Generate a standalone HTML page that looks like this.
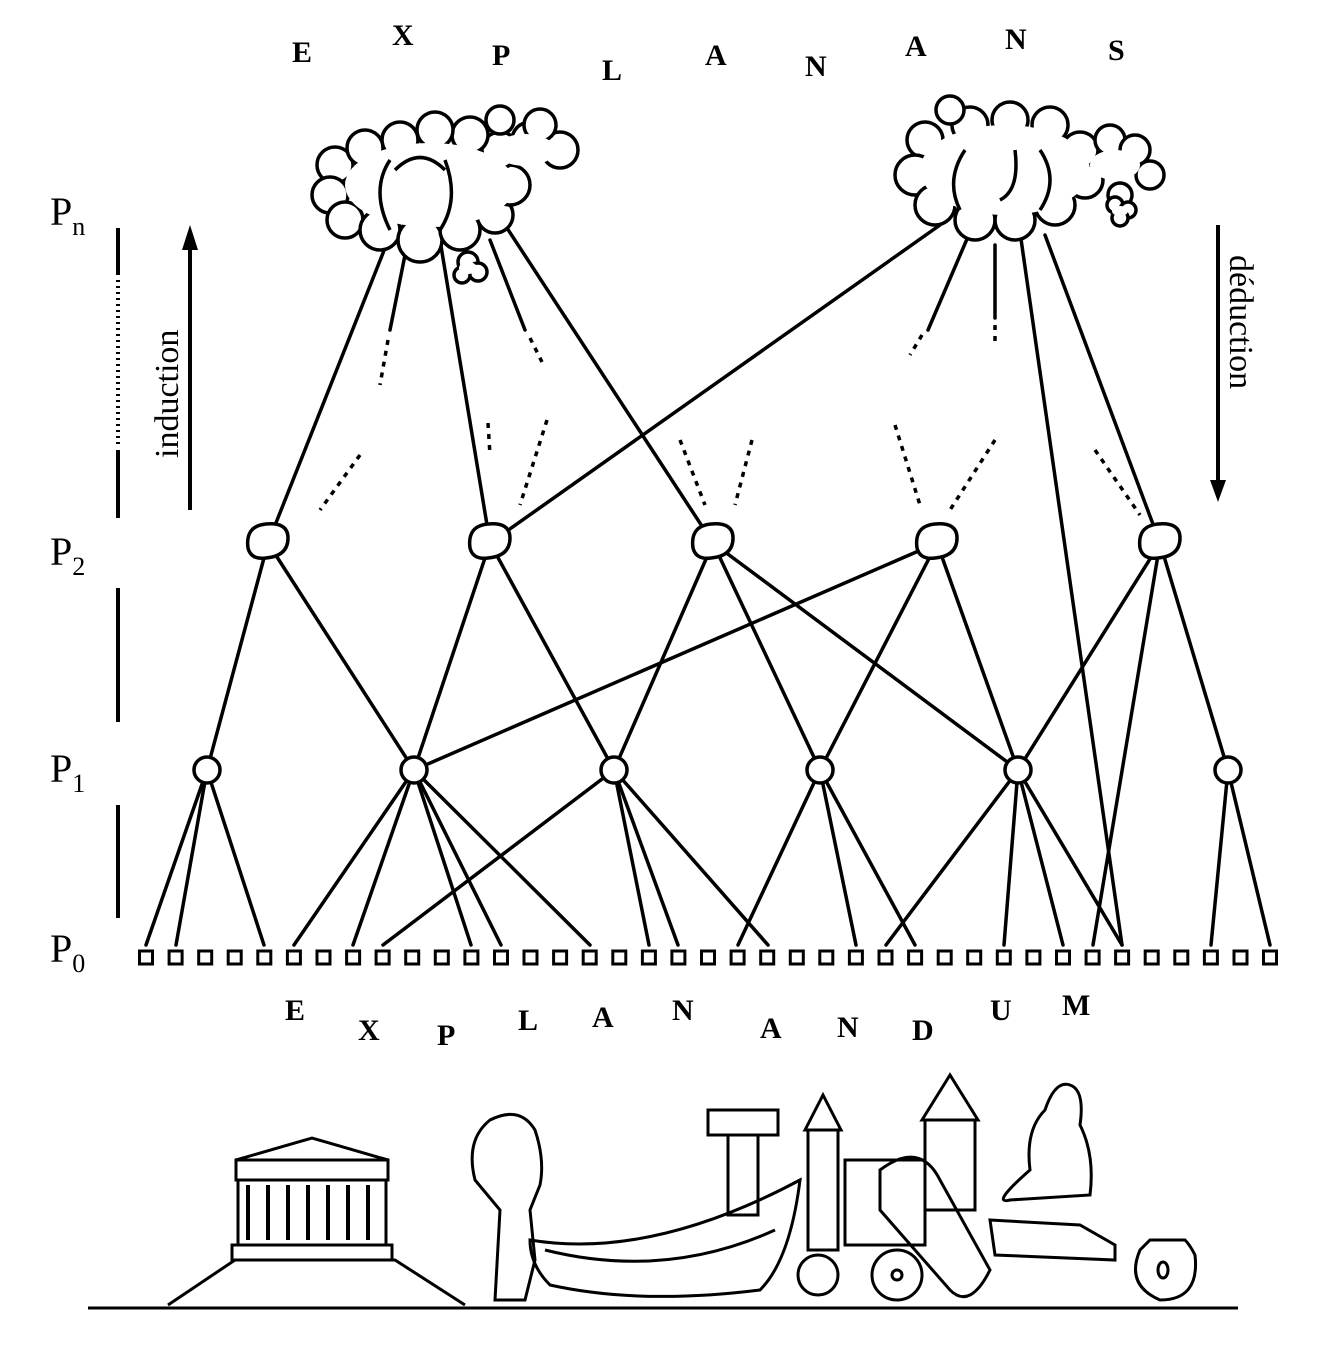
<!DOCTYPE html>
<html><head><meta charset="utf-8"><style>
html,body{margin:0;padding:0;background:#fff;}
svg{display:block;}
text{font-family:"Liberation Serif",serif;fill:#000;}
</style></head><body>
<svg width="1325" height="1350" viewBox="0 0 1325 1350" xmlns="http://www.w3.org/2000/svg">
<g font-size="30" font-weight="bold">
<text x="292" y="62">E</text><text x="392" y="45">X</text><text x="492" y="65">P</text>
<text x="602" y="80">L</text><text x="705" y="65">A</text><text x="805" y="76">N</text>
<text x="905" y="56">A</text><text x="1005" y="49">N</text><text x="1108" y="60">S</text>
</g>
<g font-size="30" font-weight="bold">
<text x="285" y="1020">E</text><text x="358" y="1040">X</text><text x="437" y="1045">P</text>
<text x="518" y="1030">L</text><text x="592" y="1027">A</text><text x="672" y="1020">N</text>
<text x="760" y="1038">A</text><text x="837" y="1037">N</text><text x="912" y="1040">D</text>
<text x="990" y="1020">U</text><text x="1062" y="1015">M</text>
</g>
<g font-size="40">
<text x="50" y="225">P<tspan font-size="26" dy="10">n</tspan></text>
<text x="50" y="565">P<tspan font-size="26" dy="10">2</tspan></text>
<text x="50" y="782">P<tspan font-size="26" dy="10">1</tspan></text>
<text x="50" y="962">P<tspan font-size="26" dy="10">0</tspan></text>
</g>
<g stroke="#000" stroke-width="4">
<line x1="118" y1="228" x2="118" y2="275"/>
<line x1="118" y1="280" x2="118" y2="445" stroke-dasharray="2 4"/>
<line x1="118" y1="450" x2="118" y2="518"/>
<line x1="118" y1="588" x2="118" y2="722"/>
<line x1="118" y1="805" x2="118" y2="918"/>
<line x1="190" y1="510" x2="190" y2="245"/>
<line x1="1218" y1="225" x2="1218" y2="485"/>
</g>
<polygon points="190,225 182,250 198,250" fill="#000"/>
<polygon points="1218,502 1210,480 1226,480" fill="#000"/>
<text font-size="34" transform="translate(178,458) rotate(-90)">induction</text>
<text font-size="34" transform="translate(1230,255) rotate(90)">déduction</text>

<g stroke="#000" stroke-width="3.5" fill="none" stroke-linecap="round">
<!-- P1 to P0 -->
<line x1="207" y1="770" x2="146" y2="945"/><line x1="207" y1="770" x2="176" y2="945"/><line x1="207" y1="770" x2="264" y2="945"/>
<line x1="414" y1="770" x2="294" y2="945"/><line x1="414" y1="770" x2="353" y2="945"/><line x1="414" y1="770" x2="471" y2="945"/><line x1="414" y1="770" x2="501" y2="945"/><line x1="414" y1="770" x2="590" y2="945"/>
<line x1="614" y1="770" x2="383" y2="945"/><line x1="614" y1="770" x2="649" y2="945"/><line x1="614" y1="770" x2="678" y2="945"/><line x1="614" y1="770" x2="768" y2="945"/>
<line x1="820" y1="770" x2="738" y2="945"/><line x1="820" y1="770" x2="856" y2="945"/><line x1="820" y1="770" x2="915" y2="945"/>
<line x1="1018" y1="770" x2="886" y2="945"/><line x1="1018" y1="770" x2="1004" y2="945"/><line x1="1018" y1="770" x2="1063" y2="945"/><line x1="1018" y1="770" x2="1122" y2="945"/>
<line x1="1228" y1="770" x2="1211" y2="945"/><line x1="1228" y1="770" x2="1270" y2="945"/>
<!-- P2 to P1 -->
<line x1="268" y1="543" x2="207" y2="770"/><line x1="268" y1="543" x2="414" y2="770"/>
<line x1="490" y1="543" x2="414" y2="770"/><line x1="490" y1="543" x2="614" y2="770"/>
<line x1="713" y1="543" x2="614" y2="770"/><line x1="713" y1="543" x2="820" y2="770"/><line x1="713" y1="543" x2="1018" y2="770"/>
<line x1="937" y1="543" x2="414" y2="770"/><line x1="937" y1="543" x2="820" y2="770"/><line x1="937" y1="543" x2="1018" y2="770"/>
<line x1="1160" y1="543" x2="1018" y2="770"/><line x1="1160" y1="543" x2="1228" y2="770"/><line x1="1160" y1="543" x2="1093" y2="945"/>
<!-- clouds to P2 -->
<line x1="385" y1="248" x2="268" y2="543"/><line x1="440" y1="240" x2="490" y2="543"/><line x1="505" y1="225" x2="713" y2="543"/>
<line x1="940" y1="225" x2="490" y2="543"/><line x1="1020" y1="232" x2="1122" y2="945"/><line x1="1045" y1="235" x2="1160" y2="543"/>
<line x1="405" y1="255" x2="390" y2="330"/><line x1="490" y1="240" x2="525" y2="330"/><line x1="970" y1="232" x2="928" y2="330"/><line x1="995" y1="245" x2="995" y2="318"/>
</g>
<g stroke="#000" stroke-width="3.5" fill="none" stroke-dasharray="5 6">
<line x1="388" y1="340" x2="380" y2="385"/><line x1="530" y1="338" x2="542" y2="362"/><line x1="922" y1="335" x2="910" y2="355"/><line x1="995" y1="325" x2="995" y2="345"/>
<line x1="360" y1="455" x2="320" y2="510"/><line x1="488" y1="423" x2="490" y2="455"/><line x1="547" y1="420" x2="520" y2="505"/><line x1="680" y1="440" x2="705" y2="505"/><line x1="752" y1="440" x2="735" y2="505"/><line x1="895" y1="425" x2="920" y2="505"/><line x1="995" y1="440" x2="950" y2="510"/><line x1="1095" y1="450" x2="1140" y2="515"/>
</g>
<!-- nodes -->
<g stroke="#000" stroke-width="3.5" fill="#fff">
<circle cx="207" cy="770" r="13"/><circle cx="414" cy="770" r="13"/><circle cx="614" cy="770" r="13"/><circle cx="820" cy="770" r="13"/><circle cx="1018" cy="770" r="13"/><circle cx="1228" cy="770" r="13"/>
<path d="M248,548 q-3,-22 18,-24 q22,-2 22,14 q0,18 -22,20 q-15,2 -18,-10z"/>
<path d="M470,548 q-3,-22 18,-24 q22,-2 22,14 q0,18 -22,20 q-15,2 -18,-10z"/>
<path d="M693,548 q-3,-22 18,-24 q22,-2 22,14 q0,18 -22,20 q-15,2 -18,-10z"/>
<path d="M917,548 q-3,-22 18,-24 q22,-2 22,14 q0,18 -22,20 q-15,2 -18,-10z"/>
<path d="M1140,548 q-3,-22 18,-24 q22,-2 22,14 q0,18 -22,20 q-15,2 -18,-10z"/>
</g>
<g stroke="#000" stroke-width="3" fill="#fff">
<rect x="139.5" y="951" width="13" height="13"/><rect x="169.1" y="951" width="13" height="13"/><rect x="198.7" y="951" width="13" height="13"/><rect x="228.2" y="951" width="13" height="13"/><rect x="257.8" y="951" width="13" height="13"/><rect x="287.4" y="951" width="13" height="13"/><rect x="317" y="951" width="13" height="13"/><rect x="346.6" y="951" width="13" height="13"/><rect x="376.1" y="951" width="13" height="13"/><rect x="405.7" y="951" width="13" height="13"/><rect x="435.3" y="951" width="13" height="13"/><rect x="464.9" y="951" width="13" height="13"/><rect x="494.5" y="951" width="13" height="13"/><rect x="524" y="951" width="13" height="13"/><rect x="553.6" y="951" width="13" height="13"/><rect x="583.2" y="951" width="13" height="13"/><rect x="612.8" y="951" width="13" height="13"/><rect x="642.4" y="951" width="13" height="13"/><rect x="671.9" y="951" width="13" height="13"/><rect x="701.5" y="951" width="13" height="13"/><rect x="731.1" y="951" width="13" height="13"/><rect x="760.7" y="951" width="13" height="13"/><rect x="790.3" y="951" width="13" height="13"/><rect x="819.8" y="951" width="13" height="13"/><rect x="849.4" y="951" width="13" height="13"/><rect x="879" y="951" width="13" height="13"/><rect x="908.6" y="951" width="13" height="13"/><rect x="938.2" y="951" width="13" height="13"/><rect x="967.7" y="951" width="13" height="13"/><rect x="997.3" y="951" width="13" height="13"/><rect x="1026.9" y="951" width="13" height="13"/><rect x="1056.5" y="951" width="13" height="13"/><rect x="1086.1" y="951" width="13" height="13"/><rect x="1115.6" y="951" width="13" height="13"/><rect x="1145.2" y="951" width="13" height="13"/><rect x="1174.8" y="951" width="13" height="13"/><rect x="1204.4" y="951" width="13" height="13"/><rect x="1234" y="951" width="13" height="13"/><rect x="1263.5" y="951" width="13" height="13"/>
</g>
<!-- clouds -->
<g stroke="#000" stroke-width="3.5" fill="#fff">
<circle cx="335" cy="165" r="18"/><circle cx="330" cy="195" r="18"/><circle cx="345" cy="220" r="18"/><circle cx="380" cy="230" r="20"/><circle cx="420" cy="240" r="22"/><circle cx="460" cy="230" r="20"/><circle cx="495" cy="215" r="18"/><circle cx="510" cy="185" r="20"/><circle cx="500" cy="150" r="18"/><circle cx="470" cy="135" r="18"/><circle cx="435" cy="130" r="18"/><circle cx="400" cy="140" r="18"/><circle cx="365" cy="148" r="18"/><circle cx="530" cy="140" r="18"/><circle cx="560" cy="150" r="18"/><circle cx="540" cy="125" r="16"/><circle cx="500" cy="120" r="14"/>
<ellipse cx="430" cy="185" rx="85" ry="42" stroke="none"/><ellipse cx="525" cy="150" rx="30" ry="16" stroke="none"/>
<path d="M390,230 q-20,-40 0,-70 M440,230 q20,-30 5,-70 M395,170 q25,-25 50,0" fill="none"/>
<circle cx="468" cy="262" r="10"/><circle cx="478" cy="272" r="9"/><circle cx="462" cy="275" r="8"/><ellipse cx="468" cy="268" rx="9" ry="6" stroke="none"/>
<circle cx="925" cy="140" r="18"/><circle cx="915" cy="175" r="20"/><circle cx="935" cy="205" r="20"/><circle cx="975" cy="220" r="20"/><circle cx="1015" cy="220" r="20"/><circle cx="1055" cy="205" r="20"/><circle cx="1085" cy="180" r="18"/><circle cx="1080" cy="150" r="18"/><circle cx="1050" cy="125" r="18"/><circle cx="1010" cy="120" r="18"/><circle cx="970" cy="125" r="18"/><circle cx="950" cy="110" r="14"/><circle cx="1110" cy="140" r="15"/><circle cx="1135" cy="150" r="15"/><circle cx="1150" cy="175" r="14"/><circle cx="1120" cy="195" r="12"/>
<ellipse cx="1005" cy="170" rx="85" ry="45" stroke="none"/><ellipse cx="1115" cy="165" rx="25" ry="15" stroke="none"/>
<path d="M960,210 q-15,-30 5,-60 M1000,200 q20,-10 15,-50 M1040,210 q20,-30 0,-60" fill="none"/>
<circle cx="1115" cy="205" r="8"/><circle cx="1128" cy="210" r="8"/><circle cx="1120" cy="218" r="8"/><ellipse cx="1120" cy="211" rx="8" ry="5" stroke="none"/>
</g>
<!-- bottom illustration -->
<g stroke="#000" stroke-width="3" fill="none">
<line x1="88" y1="1308" x2="1238" y2="1308"/>
<polyline points="168,1305 235,1260 395,1260 465,1305"/>
<rect x="232" y="1245" width="160" height="15"/>
<rect x="238" y="1180" width="148" height="65"/>
<g stroke-width="4"><line x1="248" y1="1185" x2="248" y2="1240"/><line x1="268" y1="1185" x2="268" y2="1240"/><line x1="288" y1="1185" x2="288" y2="1240"/><line x1="308" y1="1185" x2="308" y2="1240"/><line x1="328" y1="1185" x2="328" y2="1240"/><line x1="348" y1="1185" x2="348" y2="1240"/><line x1="368" y1="1185" x2="368" y2="1240"/></g>
<rect x="236" y="1160" width="152" height="20"/>
<polygon points="236,1160 312,1138 388,1160"/>
<path d="M495,1300 l5,-90 l-25,-30 q-10,-40 15,-60 q30,-15 45,10 q10,30 5,55 l-10,25 l5,50 l-10,40 z"/>
<path d="M530,1240 q120,20 270,-60 q-10,80 -40,110 q-120,15 -210,-5 q-20,-20 -20,-45z"/>
<path d="M545,1250 q120,30 230,-20"/>
<rect x="728" y="1135" width="30" height="80"/>
<rect x="708" y="1110" width="70" height="25"/>
<rect x="808" y="1130" width="30" height="120"/>
<polygon points="805,1130 823,1095 841,1130"/>
<rect x="845" y="1160" width="80" height="85"/>
<rect x="925" y="1120" width="50" height="90"/>
<polygon points="922,1120 950,1075 978,1120"/>
<path d="M880,1170 q40,-30 60,10 l50,90 q-20,40 -40,20 l-70,-80z"/>
<circle cx="897" cy="1275" r="25"/><circle cx="897" cy="1275" r="5"/>
<circle cx="818" cy="1275" r="20"/>
<path d="M1045,1110 q10,-30 25,-25 q15,5 10,40 q15,30 10,70 l-80,5 q-20,5 20,-30 q-5,-40 15,-60z"/>
<path d="M990,1220 l90,5 l35,20 l0,15 l-120,-5 z"/>
<path d="M1140,1250 q-15,35 20,50 q40,0 35,-45 q-5,-10 -10,-15 l-35,0z"/>
<ellipse cx="1163" cy="1270" rx="5" ry="8"/>
</g>
</svg>
</body></html>
